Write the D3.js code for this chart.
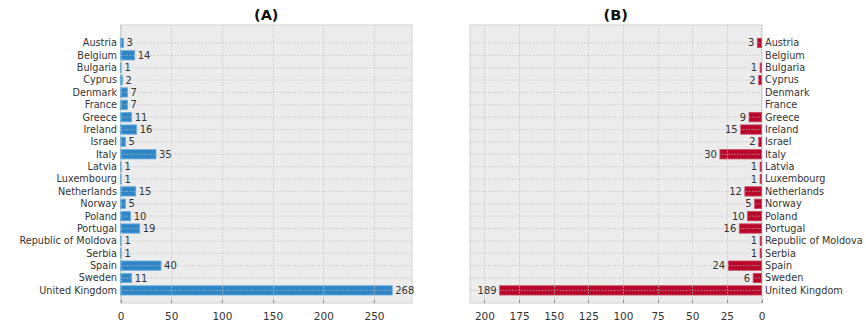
<!DOCTYPE html>
<html>
<head>
<meta charset="utf-8">
<script src="https://cdn.jsdelivr.net/npm/d3@7"></script>
<style>
  body { margin: 0; background: #fff; }
  svg { display: block; font-family: "DejaVu Sans", Verdana, sans-serif; }
</style>
</head>
<body>
<svg id="chart" width="866" height="328"></svg>
<script>
const categories = ["Austria","Belgium","Bulgaria","Cyprus","Denmark","France","Greece","Ireland","Israel","Italy","Latvia","Luxembourg","Netherlands","Norway","Poland","Portugal","Republic of Moldova","Serbia","Spain","Sweden","United Kingdom"];
const valuesA = [3,14,1,2,7,7,11,16,5,35,1,1,15,5,10,19,1,1,40,11,268];
const valuesB = [3,null,1,2,null,null,9,15,2,30,1,1,12,5,10,16,1,1,24,6,189];
const ticksA = [0,50,100,150,200,250];
const ticksB = [200,175,150,125,100,75,50,25,0];
const titles = ["(A)","(B)"];

const svg = d3.select("#chart");
const plotTop = 25, plotBottom = 303;
const n = categories.length;

const y = d3.scaleLinear().domain([-1.45, n - 1 + 1.02]).range([plotTop, plotBottom]);
const barH = 0.75 * (y(1) - y(0));

function panel(opts) {
  const g = svg.append("g");
  const x = opts.x;
  const [x0, x1] = [Math.min(...x.range()), Math.max(...x.range())];

  g.append("rect").attr("x", x0).attr("y", plotTop).attr("width", x1 - x0).attr("height", plotBottom - plotTop)
    .attr("fill", "#ececec").attr("stroke", "#d2d2d2").attr("stroke-width", 1);

  const rows = categories.map((c, i) => ({c, i, v: opts.values[i]})).filter(d => d.v != null);

  // bars
  g.selectAll("rect.bar").data(rows).join("rect").attr("class", "bar")
    .attr("x", d => Math.min(x(0), x(d.v)))
    .attr("y", d => y(d.i) - barH / 2)
    .attr("width", d => Math.abs(x(d.v) - x(0)))
    .attr("height", barH)
    .attr("fill", opts.color)
    .attr("stroke", opts.edge).attr("stroke-width", 0.8);

  // dotted grid, drawn above the bars
  const grid = g.append("g");
  grid.selectAll("line.hg").data(d3.range(n)).join("line").attr("class", "hg")
    .attr("x1", x0).attr("x2", x1).attr("y1", d => y(d)).attr("y2", d => y(d))
    .attr("stroke", "#c2c2c2").attr("stroke-width", 0.8).attr("stroke-dasharray", "1.5,1.5").attr("opacity", 0.85);
  grid.selectAll("line.vg").data(opts.ticks).join("line").attr("class", "vg")
    .attr("x1", d => Math.round(x(d)) + 0.5).attr("x2", d => Math.round(x(d)) + 0.5)
    .attr("y1", plotTop).attr("y2", plotBottom)
    .attr("stroke", "#c2c2c2").attr("stroke-width", 0.8).attr("stroke-dasharray", "1.5,1.5");

  // x axis
  const axis = d3.axisBottom(x).tickValues(opts.ticks).tickSize(0).tickPadding(10);
  const ax = g.append("g").attr("transform", `translate(0,${plotBottom})`).call(axis);
  ax.select(".domain").remove();
  ax.selectAll("text").attr("font-size", 10.5).attr("fill", "#333").attr("font-family", "DejaVu Sans, Verdana, sans-serif");
  // small inward tick marks
  g.selectAll("line.tk").data(opts.ticks).join("line").attr("class", "tk")
    .attr("x1", d => Math.round(x(d)) + 0.5).attr("x2", d => Math.round(x(d)) + 0.5)
    .attr("y1", plotBottom - 3).attr("y2", plotBottom).attr("stroke", "#888").attr("stroke-width", 1);

  // category labels
  g.selectAll("text.cat").data(categories).join("text").attr("class", "cat")
    .attr("x", opts.labelX).attr("y", (d, i) => y(i)).attr("dy", "0.35em")
    .attr("text-anchor", opts.labelAnchor).attr("font-size", 9.7).attr("fill", "#333").text(d => d);

  // value labels
  g.selectAll("text.val").data(rows).join("text").attr("class", "val")
    .attr("x", d => x(d.v) + opts.valOffset).attr("y", d => y(d.i)).attr("dy", "0.35em")
    .attr("text-anchor", opts.valAnchor).attr("font-size", 10).attr("fill", "#333").text(d => d.v);

  // title
  svg.append("text").attr("x", (x0 + x1) / 2).attr("y", 20).attr("text-anchor", "middle")
    .attr("font-size", 14.5).attr("font-weight", "bold").attr("fill", "#111").text(opts.title);
}

panel({
  x: d3.scaleLinear().domain([0, 287.5]).range([120.5, 412]),
  values: valuesA, ticks: ticksA, color: "#2e86c6", edge: "#6aaee0",
  labelX: 117, labelAnchor: "end", valOffset: 3, valAnchor: "start", title: titles[0]
});
panel({
  x: d3.scaleLinear().domain([0, 210.4]).range([761.5, 470]),
  values: valuesB, ticks: ticksB, color: "#b8072b", edge: "#c9445c",
  labelX: 765, labelAnchor: "start", valOffset: -3, valAnchor: "end", title: titles[1]
});
</script>
</body>
</html>
